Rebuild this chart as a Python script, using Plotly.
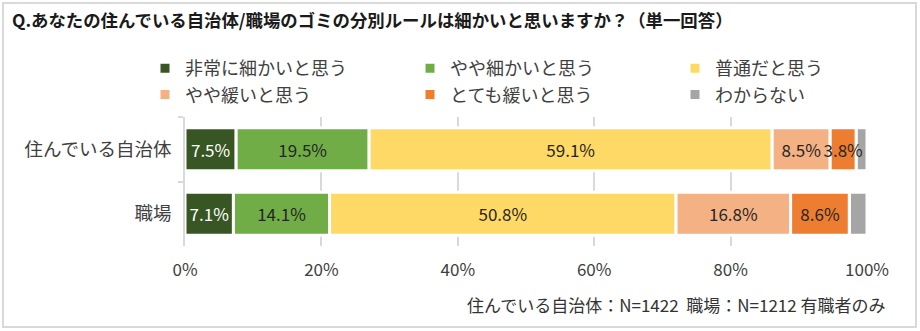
import plotly.graph_objects as go

# Survey: are the garbage sorting rules strict? (single answer)
categories = ["住んでいる自治体", "職場"]
answer_labels = ["非常に細かいと思う", "やや細かいと思う", "普通だと思う",
                 "やや緩いと思う", "とても緩いと思う", "わからない"]
very_strict = [7.5, 7.1]
somewhat_strict = [19.5, 14.1]
normal = [59.1, 50.8]
somewhat_loose = [8.5, 16.8]
very_loose = [3.8, 8.6]
dont_know = [1.6, 2.6]
series_values = [very_strict, somewhat_strict, normal, somewhat_loose, very_loose, dont_know]
x_ticks = [0, 20, 40, 60, 80, 100]
x_tick_labels = ["0%", "20%", "40%", "60%", "80%", "100%"]

colors = ["#375623", "#70AD47", "#FFD966", "#F4B183", "#ED7D31", "#A5A5A5"]
label_colors = ["#FFFFFF", "#262626", "#262626", "#262626", "#262626", "#262626"]
show_labels = [True, True, True, True, True, False]
# last legend column gets a narrower entry so the wrapped legend fits the page
legend_widths = [None, None, 150, None, None, 150]

FONT = "Noto Sans CJK JP"
W, H = 920, 331
L, R, T, B = 185, 53, 117, 85
PW, PH = W - L - R, H - T - B


def px_x(p):
    return (p - L) / PW


def px_y(p):
    return (H - B - p) / PH


# cumulative left edge of every segment (stacked by hand so the draw order is free)
bases = []
running = [0.0] * len(categories)
for vals in series_values:
    bases.append(list(running))
    running = [r + v for r, v in zip(running, vals)]

traces = []
for i, (name, vals, base, col, tcol, lab, lw) in enumerate(zip(
        answer_labels, series_values, bases, colors, label_colors, show_labels, legend_widths)):
    traces.append(go.Bar(
        y=categories, x=vals, base=base, name=name, orientation="h",
        marker=dict(color=col, line=dict(color="white", width=3)),
        texttemplate="%{x:.1f}%" if lab else None,
        textposition="inside" if lab else "none",
        insidetextanchor="middle",
        textangle=0,
        constraintext="none",
        textfont=dict(family=FONT, size=17, color=tcol),
        legendwidth=lw,
        legendrank=i + 1,
        hoverinfo="skip",
    ))

# unlabeled segment goes underneath so overflowing labels stay readable
fig = go.Figure(data=[traces[-1]] + traces[:-1])

fig.update_layout(
    width=W, height=H,
    margin=dict(l=L, r=R, t=T, b=B),
    paper_bgcolor="white", plot_bgcolor="white",
    barmode="overlay", bargap=0.333,
    font=dict(family=FONT, color="#404040"),
    title=dict(
        text="Q.あなたの住んでいる自治体/職場のゴミの分別ルールは細かいと思いますか？（単一回答）",
        font=dict(family=FONT, size=17.4, color="#1a1a1a", weight=700),
        xref="container", yref="container",
        x=12 / W, xanchor="left", y=1 - 21 / H, yanchor="middle",
    ),
    legend=dict(
        orientation="h", traceorder="normal",
        entrywidth=220, entrywidthmode="pixels",
        x=px_x(145), xanchor="left",
        y=px_y(50), yanchor="top",
        font=dict(family=FONT, size=18, color="#404040"),
        bgcolor="rgba(0,0,0,0)",
    ),
    xaxis=dict(
        range=[0, 100], tickmode="array", tickvals=x_ticks, ticktext=x_tick_labels,
        showgrid=True, gridcolor="#D9D9D9", gridwidth=1.5,
        zeroline=False, showline=False, ticks="",
        ticklabelstandoff=12,
        tickfont=dict(family=FONT, size=17, color="#404040"),
        fixedrange=True,
    ),
    yaxis=dict(
        type="category", categoryorder="array", categoryarray=categories,
        autorange="reversed",
        showline=True, linecolor="#D9D9D9", linewidth=1.5,
        ticks="outside", tickson="boundaries", ticklen=5, tickcolor="#D9D9D9", tickwidth=1.5,
        ticklabelstandoff=8,
        tickfont=dict(family=FONT, size=18.5, color="#404040"),
        showgrid=False, fixedrange=True,
    ),
    annotations=[dict(
        text="住んでいる自治体：N=1422  職場：N=1212 有職者のみ",
        xref="paper", yref="paper",
        x=px_x(888), xanchor="right", y=px_y(304), yanchor="middle",
        showarrow=False,
        font=dict(family=FONT, size=17, color="#333333"),
    )],
    shapes=[dict(
        type="rect", xref="paper", yref="paper",
        x0=px_x(3), x1=px_x(916), y0=px_y(327), y1=px_y(3),
        line=dict(color="#D9D9D9", width=2), fillcolor="rgba(0,0,0,0)",
        layer="above",
    )],
)

fig.write_html("out.html")
